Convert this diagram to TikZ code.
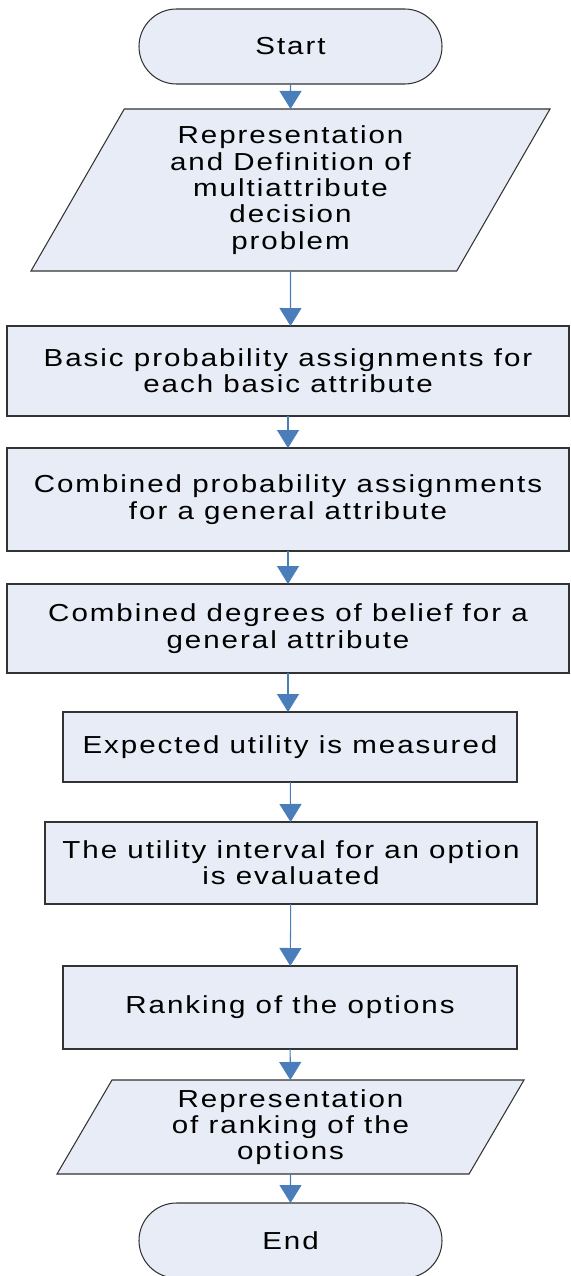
\documentclass[tikz,border=0pt]{standalone}
\usepackage{fontspec}
\setmainfont{Liberation Sans}[FakeStretch=1.2, LetterSpace=8]
\usepackage{tikz}
\usetikzlibrary{shapes.geometric, shapes.misc, arrows.meta}

\definecolor{boxfill}{RGB}{231,236,246}
\definecolor{flowblue}{RGB}{74,126,187}

\tikzset{
    terminal/.style={rounded rectangle, draw=black!80, fill=boxfill, line width=0.6pt,
        minimum width=6.06cm, minimum height=1.5cm, inner sep=0pt, outer sep=0pt},
    iobox/.style={trapezium, trapezium left angle=54, trapezium right angle=126,
        trapezium stretches body, draw=black!80, fill=boxfill, line width=0.6pt,
        align=center, inner sep=0pt, outer sep=0pt},
    procbox/.style={rectangle, draw=black!80, fill=boxfill, line width=0.6pt,
        align=center, inner sep=0pt, outer sep=0pt},
    flow/.style={draw=flowblue, line width=0.6pt,
        -{Triangle[width=0.44cm, length=0.36cm]}, color=flowblue}
}

\begin{document}
\begin{tikzpicture}[font=\fontsize{14pt}{15pt}\selectfont]
    \useasboundingbox (0,0) rectangle (11.4,-25.52);

    % Start and input
    \node[terminal] (start) at (5.81, -0.93) {Start};
    \node[iobox, minimum width=10.38cm, minimum height=3.24cm] (define) at (5.81, -3.80)
        {Representation\\and Definition of\\multiattribute\\decision\\problem};

    % Processing steps
    \node[procbox, minimum width=11.24cm, minimum height=1.80cm] (basic) at (5.76, -7.42)
        {Basic probability assignments for\\each basic attribute};
    \node[procbox, minimum width=11.24cm, minimum height=2.06cm] (combined) at (5.76, -9.99)
        {Combined probability assignments\\for a general attribute};
    \node[procbox, minimum width=11.24cm, minimum height=1.78cm] (belief) at (5.76, -12.57)
        {Combined degrees of belief for a\\general attribute};
    \node[procbox, minimum width=9.08cm, minimum height=1.40cm] (utility) at (5.80, -14.94)
        {Expected utility is measured};
    \node[procbox, minimum width=9.84cm, minimum height=1.64cm] (interval) at (5.82, -17.26)
        {The utility interval for an option\\is evaluated};
    \node[procbox, minimum width=9.08cm, minimum height=1.66cm] (ranking) at (5.80, -20.15)
        {Ranking of the options};

    % Output and end
    \node[iobox, minimum width=9.34cm, minimum height=1.88cm] (result) at (5.81, -22.54)
        {Representation\\of ranking of the\\options};
    \node[terminal] (end) at (5.81, -24.81) {End};

    % Connectors
    \draw[flow] (start) -- (define);
    \draw[flow] (define) -- (define |- basic.north);
    \draw[flow] (basic) -- (combined);
    \draw[flow] (combined) -- (belief);
    \draw[flow] (belief) -- (belief |- utility.north);
    \draw[flow] (utility) -- (interval);
    \draw[flow] (interval) -- (ranking);
    \draw[flow] (ranking) -- (result);
    \draw[flow] (result) -- (end);
\end{tikzpicture}
\end{document}
